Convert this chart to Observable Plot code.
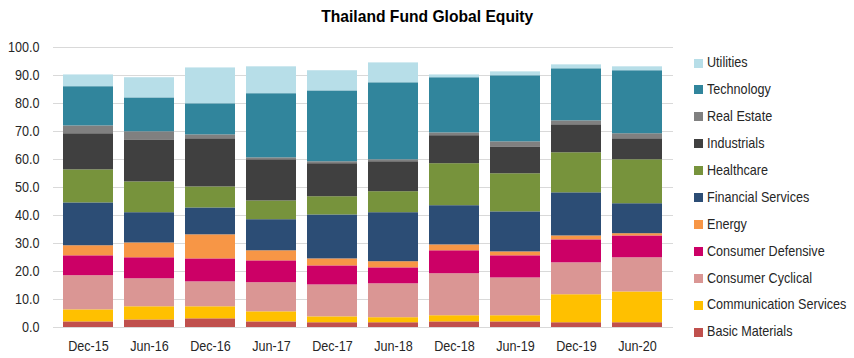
<!DOCTYPE html>
<html>
<head>
<meta charset="utf-8">
<script src="https://cdn.jsdelivr.net/npm/d3@7"></script>
<script src="https://cdn.jsdelivr.net/npm/@observablehq/plot@0.6"></script>
<style>
  body { margin: 0; background: #fff; }
  #wrap { position: relative; width: 854px; height: 358px; font-family: "Liberation Sans", Arial, sans-serif; }
  #title { height: 36px; line-height: 34px; text-align: center; font-weight: bold; font-size: 17px; color: #000; }
  #title span { display: inline-block; transform: scaleX(0.92); transform-origin: center; }
  #legend { position: absolute; left: 694px; top: 0; }
  .item { position: absolute; left: 0; white-space: nowrap; font-size: 15px; color: #262626; height: 16px; line-height: 16px; }
  .sw { position: absolute; left: 0; top: 4.5px; width: 9px; height: 9px; }
  .lab { position: absolute; left: 13px; top: 0; transform: scaleX(0.84); transform-origin: left center; }
</style>
</head>
<body>
<div id="wrap">
  <div id="title"><span>Thailand Fund Global Equity</span></div>
  <div id="chart"></div>
  <div id="legend"></div>
</div>
<script>
const dates = ["Dec-15","Jun-16","Dec-16","Jun-17","Dec-17","Jun-18","Dec-18","Jun-19","Dec-19","Jun-20"];
const sectors = ["Basic Materials","Communication Services","Consumer Cyclical","Consumer Defensive","Energy","Financial Services","Healthcare","Industrials","Real Estate","Technology","Utilities"];
const colors = ["#C0504D","#FFC000","#DA9694","#CC0066","#F79646","#2C4D75","#77933C","#404040","#808080","#31859C","#B7DEE8"];
const yTicks = [0,10,20,30,40,50,60,70,80,90,100];

const basicMaterials       = [2.0, 2.7, 3.1, 2.0, 1.7, 1.7, 2.0, 2.0, 1.7, 1.7];
const communicationServices= [4.3, 4.7, 4.3, 3.6, 2.1, 1.8, 2.2, 2.2, 10.0, 11.0];
const consumerCyclical     = [12.2, 10.0, 8.9, 10.4, 11.4, 12.1, 15.0, 13.5, 11.4, 12.2];
const consumerDefensive    = [7.1, 7.5, 8.2, 7.8, 6.8, 5.7, 8.2, 7.9, 8.2, 7.8];
const energy               = [3.6, 5.3, 8.6, 3.6, 2.5, 2.2, 2.1, 1.4, 1.4, 0.8];
const financialServices    = [15.3, 10.8, 9.6, 11.1, 15.7, 17.5, 14.0, 14.3, 15.4, 10.7];
const healthcare           = [11.8, 11.0, 7.5, 6.7, 6.5, 7.5, 15.0, 13.6, 14.3, 15.7];
const industrials          = [12.9, 15.0, 17.2, 14.7, 11.8, 10.7, 10.0, 9.6, 10.0, 7.5];
const realEstate           = [2.8, 2.9, 1.4, 0.7, 0.7, 0.7, 1.0, 1.8, 1.4, 1.8];
const technology           = [14.0, 12.1, 11.1, 22.9, 25.3, 27.5, 19.7, 23.6, 18.6, 22.5];
const utilities            = [4.2, 7.2, 12.8, 9.6, 7.2, 7.1, 1.0, 1.4, 1.4, 1.4];

const series = [basicMaterials, communicationServices, consumerCyclical, consumerDefensive, energy,
  financialServices, healthcare, industrials, realEstate, technology, utilities];

const rows = [];
sectors.forEach((s, i) => dates.forEach((d, j) => rows.push({date: d, sector: s, value: series[i][j]})));

const font = '"Liberation Sans", Arial, sans-serif';

const chart = Plot.plot({
  width: 854,
  height: 322,
  marginTop: 11,
  marginBottom: 31,
  marginLeft: 53,
  marginRight: 181,
  style: {fontFamily: font, fontSize: "15px", color: "#262626", background: "#fff"},
  x: {domain: dates, paddingInner: 0.176, paddingOuter: 0.1, label: null},
  y: {domain: [0, 100], label: null},
  color: {domain: sectors, range: colors},
  marks: [
    Plot.gridY(yTicks, {stroke: "#d9d9d9", strokeOpacity: 1, strokeWidth: 1}),
    Plot.barY(rows, {x: "date", y: "value", fill: "sector", order: sectors}),
    Plot.axisY({ticks: yTicks, tickFormat: d => d.toFixed(1), tickSize: 0, tickPadding: 14, label: null, fill: "#262626"}),
    Plot.axisX({tickSize: 0, tickPadding: 13, label: null, fill: "#262626"})
  ]
});
document.getElementById("chart").appendChild(chart);

// condense the axis text to mimic the narrow face of the original
chart.querySelectorAll("text").forEach(t => {
  const len = t.getComputedTextLength();
  if (len > 0) {
    t.setAttribute("textLength", (len * 0.84).toFixed(2));
    t.setAttribute("lengthAdjust", "spacingAndGlyphs");
  }
});

const legend = document.getElementById("legend");
const legendOrder = sectors.slice().reverse();
legendOrder.forEach((s, i) => {
  const item = document.createElement("div");
  item.className = "item";
  item.style.top = (54 + i * 26.94) + "px";
  const sw = document.createElement("div");
  sw.className = "sw";
  sw.style.background = colors[sectors.indexOf(s)];
  const lab = document.createElement("div");
  lab.className = "lab";
  lab.textContent = s;
  item.appendChild(sw);
  item.appendChild(lab);
  legend.appendChild(item);
});
</script>
</body>
</html>
